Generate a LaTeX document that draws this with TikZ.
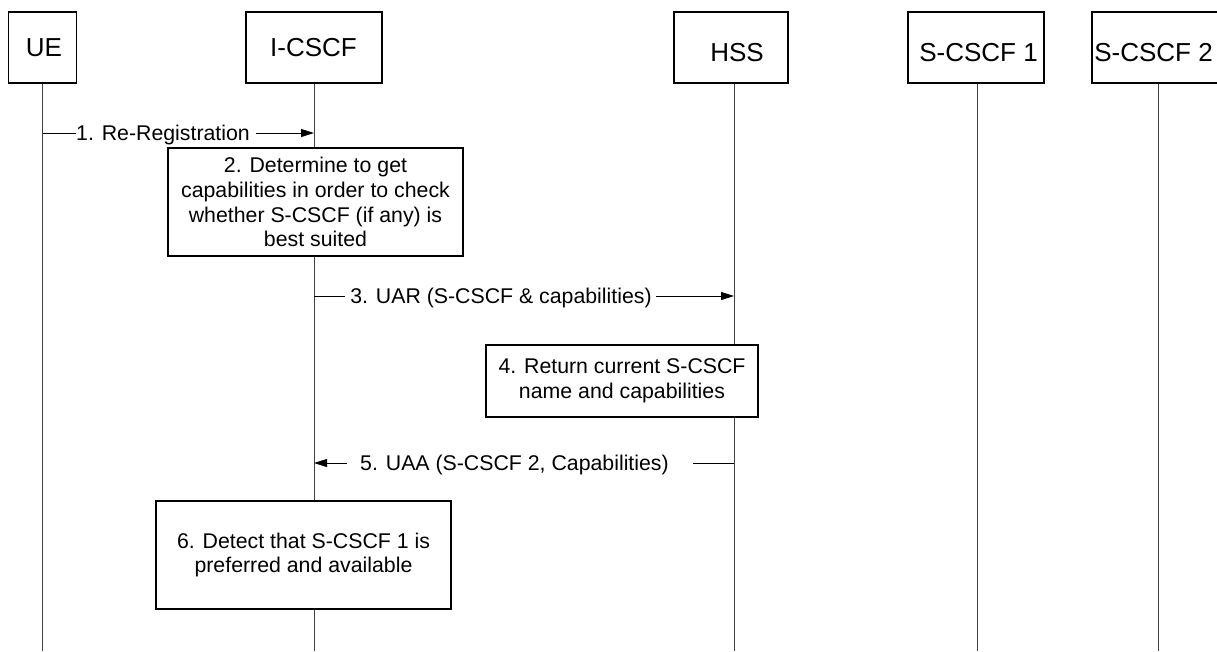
\documentclass[tikz,border=0pt]{standalone}
\usepackage{fontspec}
\setmainfont{Liberation Sans}
\usetikzlibrary{arrows.meta}
\begin{document}
\begin{tikzpicture}[x=1pt,y=-1pt,
  entity/.style={draw=black, line width=1.2pt, fill=white, minimum height=71pt, inner sep=0pt},
  entlabel/.style={font=\fontsize{26}{30}\selectfont, inner sep=0pt, text height=18.6pt, text depth=0pt},
  lifeline/.style={draw=black!75, line width=1pt},
  stepbox/.style={draw=black, line width=1.2pt, fill=white, align=center, inner sep=0pt,
    font=\fontsize{21.3}{24.8}\selectfont},
  msglabel/.style={font=\fontsize{21.3}{24.8}\selectfont, inner sep=0pt, text height=15.25pt, text depth=0pt},
  msgline/.style={draw=black, line width=1pt},
  msgarrow/.style={msgline, -{Triangle[length=13pt,width=8pt]}}]

\clip (0,0) rectangle (1217,651);

% entities
\node[entity, minimum width=68pt]  (ue)    at (42.5,47.5) {};
\node[entity, minimum width=136pt] (icscf) at (314,47.5)  {};
\node[entity, minimum width=114pt] (hss)   at (731,47.5)  {};
\node[entity, minimum width=136pt] (scf1)  at (976,47.5)  {};
\node[entity, minimum width=136pt] (scf2)  at (1160,47.5) {};

\node[entlabel] (uelbl)    at (44,47)     {UE};
\node[entlabel] (icscflbl) at (313.5,47.5){I-CSCF};
\node[entlabel] (hsslbl)   at (737,52.5)  {HSS};
\node[entlabel] (scf1lbl)  at (978.5,52.5){S-CSCF 1};
\node[entlabel] (scf2lbl)  at (1153.5,52.5){S-CSCF 2};

% lifelines
\coordinate (ueEnd)    at (42.5,651);
\coordinate (icscfEnd) at (314,651);
\coordinate (hssEnd)   at (734,651);
\coordinate (scf1End)  at (977,651);
\coordinate (scf2End)  at (1158,651);

\draw[lifeline] (ue.south) -- (ueEnd);
\draw[lifeline] (icscf.south) -- (icscfEnd);
\draw[lifeline] (hss.south -| hssEnd) -- (hssEnd);
\draw[lifeline] (scf1.south -| scf1End) -- (scf1End);
\draw[lifeline] (scf2.south -| scf2End) -- (scf2End);

% processing steps
\node[stepbox, minimum width=295pt, minimum height=108pt] (s2) at (315.5,202)
  {2. Determine to get\\capabilities in order to check\\whether S-CSCF (if any) is\\best suited};
\node[stepbox, minimum width=272pt, minimum height=72pt] (s4) at (622,381)
  {4. Return current S-CSCF\\name and capabilities};
\node[stepbox, minimum width=295pt, minimum height=108pt] (s6) at (303.5,555)
  {6. Detect that S-CSCF 1 is\\preferred and available};

% messages
\node[msglabel] (t1) at (163,133) {1. Re-Registration};
\draw[msgline] (ue |- t1) -- (t1.west);
\draw[msgarrow] ([xshift=6pt]t1.east) -- (icscf |- t1);

\node[msglabel] (t3) at (501,296) {3. UAR (S-CSCF \& capabilities)};
\draw[msgline] (icscf |- t3) -- ([xshift=-5pt]t3.west);
\draw[msgarrow] ([xshift=4pt]t3.east) -- (hssEnd |- t3);

\node[msglabel] (t5) at (514.5,463) {5. UAA (S-CSCF 2, Capabilities)};
\draw[msgarrow] ([xshift=-13pt]t5.west) -- (icscf |- t5);
\draw[msgline] ([xshift=24pt]t5.east) -- (hssEnd |- t5);

\end{tikzpicture}
\end{document}
